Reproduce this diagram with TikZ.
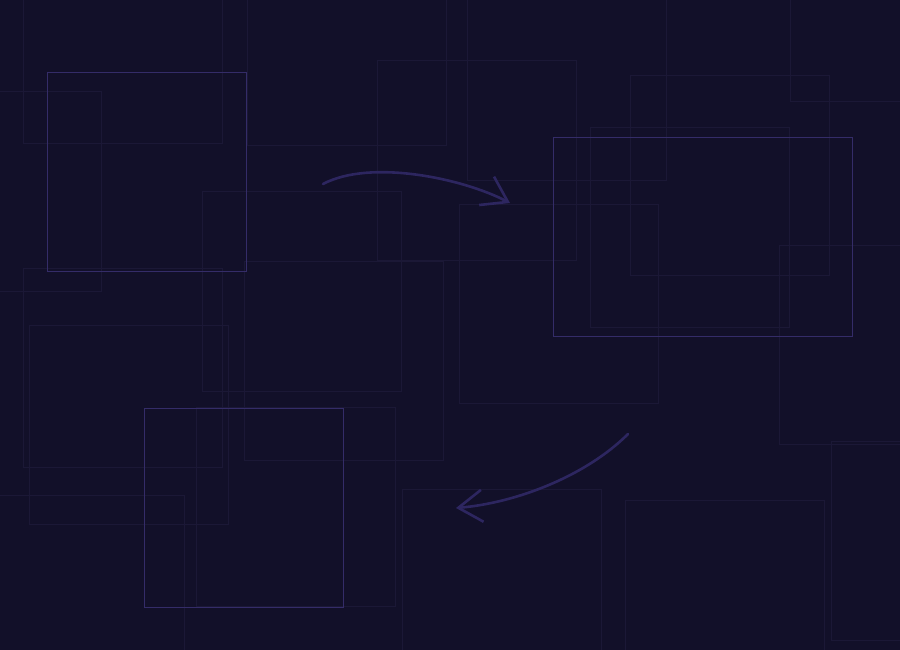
\documentclass[tikz,border=0pt]{standalone}
\usepackage{tikz}
\usetikzlibrary{arrows.meta}
\definecolor{night}{RGB}{18, 16, 41}
\definecolor{faintline}{RGB}{27, 24, 54}
\definecolor{panelline}{RGB}{52, 44, 104}
\definecolor{flowline}{RGB}{45, 38, 96}

\tikzset{
  faint/.style={draw=faintline, line width=1pt},
  panel/.style={draw=panelline, line width=1pt, minimum height=199pt, inner sep=0pt, anchor=north west},
  flow/.style={draw=flowline, line width=2.6pt, line cap=round,
               -{Straight Barb[length=24pt, width=32pt, line width=2.6pt]}}
}

\begin{document}
\begin{tikzpicture}[x=1pt, y=-1pt]

  \fill[night] (0, 0) rectangle (900, 650);
  \useasboundingbox (0, 0) rectangle (900, 650);

  % background squares
  \foreach \x/\y in {23/-55, 247/-53, -98/92, 377/61, 202/192, 244/261, 23/268,
                     467/-18, 790/-97, 630/76, 590/128, 459/204, 779/245,
                     29/325, -15/495, 196/407, 402/489, 625/500, 831/441} {
    \draw[faint] (\x, \y) rectangle +(199, 199);
  }

  % the three frames
  \node[panel, minimum width=199pt] (first) at (47, 72) {};
  \node[panel, minimum width=299pt] (second) at (553, 137) {};
  \node[panel, minimum width=199pt] (third) at (144, 408) {};

  \coordinate (go) at (323, 184);
  \coordinate (goend) at (510, 203);
  \coordinate (back) at (628, 434);
  \coordinate (backend) at (456, 508);

  \draw[flow] (go) .. controls (370, 159) and (462, 178) .. (goend);
  \draw[flow] (back) .. controls (586, 476) and (516, 503) .. (backend);

\end{tikzpicture}
\end{document}
